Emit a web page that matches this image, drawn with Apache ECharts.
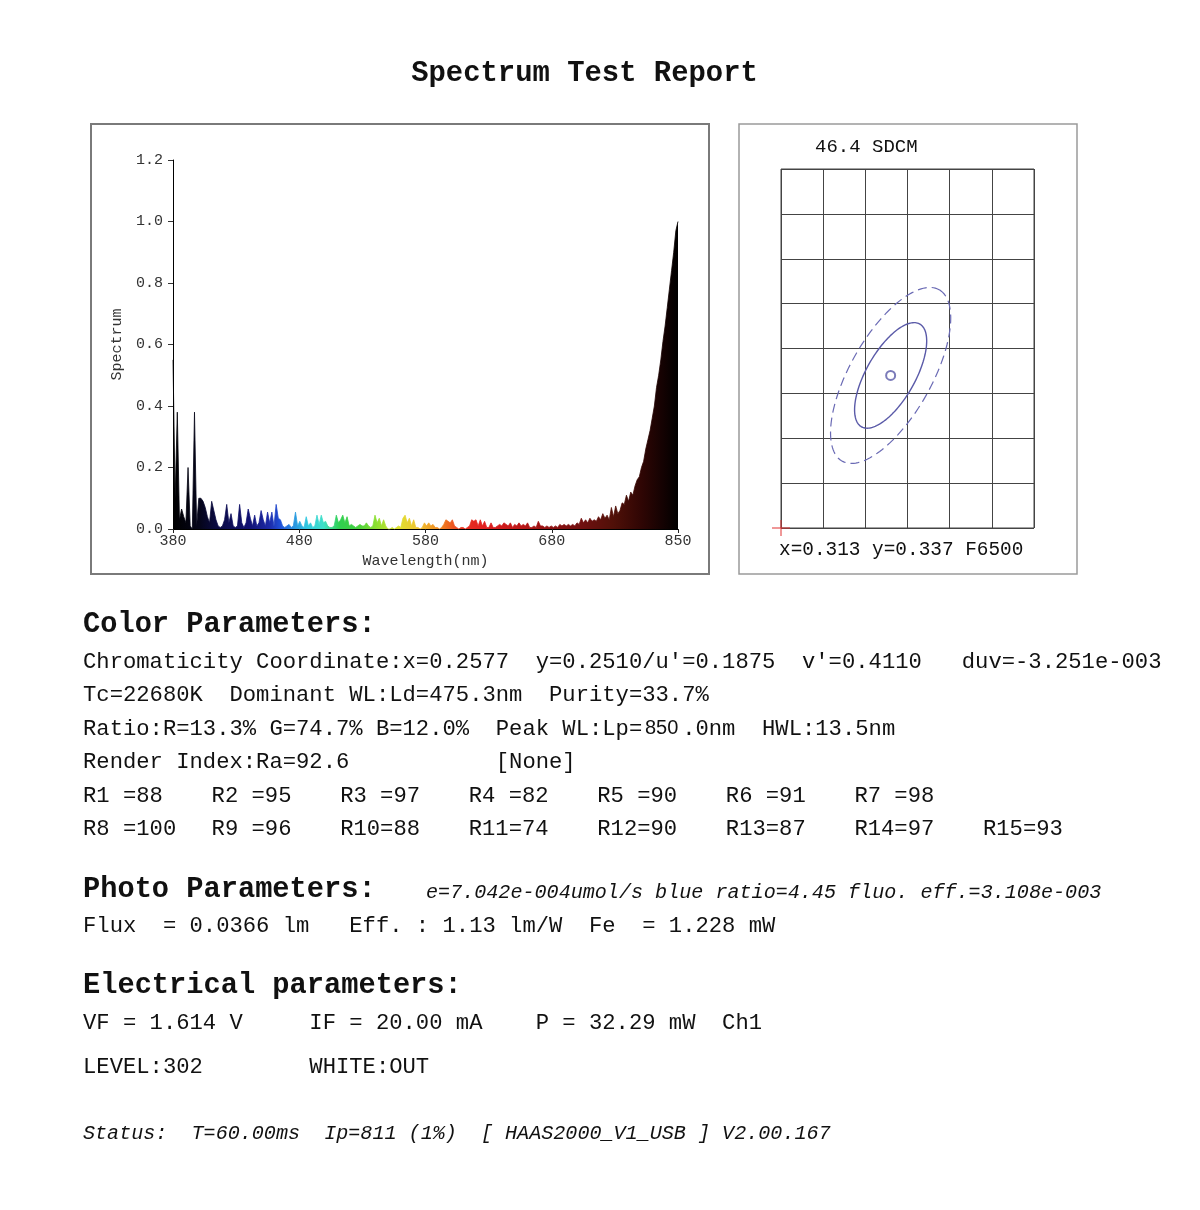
<!DOCTYPE html>
<html>
<head>
<meta charset="utf-8">
<script src="https://cdn.jsdelivr.net/npm/echarts@6/dist/echarts.min.js"></script>
<style>
  html, body { margin: 0; padding: 0; background: #fff; }
  #main { width: 1200px; height: 1210px; }
</style>
</head>
<body>
<div id="main"></div>
<script>
// ---------------- DATA ----------------
const reportTitle = "Spectrum Test Report";

// spectrum: relative intensity sampled every 2 nm from 380 nm to 850 nm
const wlStart = 380;
const wlStep = 2;
const spectrum = [
  // 380-398
  0.55,0.10,0.38,0.03,0.065,0.04,0.02,0.20,0.01,0.00,
  // 400-418
  0.38,0.01,0.10,0.10,0.09,0.07,0.04,0.02,0.09,0.06,
  // 420-438
  0.03,0.01,0.005,0.01,0.03,0.08,0.02,0.05,0.01,0.005,
  // 440-458
  0.01,0.08,0.02,0.005,0.02,0.065,0.035,0.01,0.045,0.01,
  // 460-478
  0.02,0.06,0.03,0.01,0.055,0.02,0.055,0.01,0.08,0.035,
  // 480-498
  0.03,0.01,0.005,0.01,0.015,0.005,0.01,0.055,0.01,0.025,
  // 500-518
  0.01,0.005,0.04,0.01,0.02,0.005,0.01,0.045,0.015,0.045,
  // 520-538
  0.02,0.025,0.01,0.005,0.005,0.01,0.045,0.02,0.03,0.045,
  // 540-558
  0.02,0.04,0.01,0.015,0.01,0.005,0.01,0.015,0.01,0.01,
  // 560-578
  0.02,0.01,0.005,0.01,0.045,0.02,0.035,0.01,0.03,0.01,
  // 580-598
  0.0,0.0,0.005,0.0,0.005,0.01,0.005,0.035,0.045,0.02,
  // 600-618
  0.035,0.01,0.03,0.005,0.005,0.0,0.005,0.02,0.01,0.02,
  // 620-638
  0.01,0.015,0.005,0.005,0.0,0.005,0.015,0.03,0.025,0.02,
  // 640-658
  0.03,0.01,0.005,0.0,0.005,0.005,0.0,0.005,0.01,0.03,
  // 660-678
  0.025,0.03,0.01,0.03,0.01,0.025,0.005,0.005,0.02,0.005,
  // 680-698
  0.005,0.01,0.015,0.01,0.02,0.015,0.01,0.02,0.005,0.015,
  // 700-718
  0.01,0.02,0.01,0.015,0.01,0.02,0.005,0.005,0.01,0.005,
  // 720-738
  0.025,0.01,0.01,0.005,0.01,0.005,0.01,0.005,0.01,0.005,
  // 740-758
  0.015,0.01,0.015,0.01,0.015,0.01,0.015,0.01,0.02,0.015,
  // 760-778
  0.035,0.02,0.03,0.02,0.035,0.025,0.03,0.025,0.04,0.03,
  // 780-798
  0.05,0.035,0.045,0.03,0.07,0.04,0.075,0.05,0.06,0.085,
  // 800-818
  0.08,0.11,0.09,0.12,0.11,0.14,0.16,0.17,0.20,0.22,
  // 820-838
  0.26,0.29,0.32,0.36,0.40,0.46,0.50,0.55,0.61,0.66,
  // 840-850
  0.72,0.78,0.84,0.90,0.97,1.00
];

// x-axis tick labels as printed on the report (placed at quarter positions)
const xTickLabels = ["380", "480", "580", "680", "850"];
const yTickLabels = ["0.0", "0.2", "0.4", "0.6", "0.8", "1.0", "1.2"];

// chromaticity panel
const sdcmValue = "46.4";
const targetName = "F6500";
const targetXY = [0.313, 0.337];
const measuredXY = [0.2577, 0.2510];
const macAdam = { a: 0.00223, b: 0.00095, thetaDeg: 58.23 };
const ellipseSteps = [3, 5];
const chromaX = [0.300, 0.330];
const chromaY = [0.320, 0.360];
const chromaStep = 0.005;

// report text
const colorHeader = "Color Parameters:";
const colorLines = [
  "Chromaticity Coordinate:x=0.2577  y=0.2510/u'=0.1875  v'=0.4110   duv=-3.251e-003",
  "Tc=22680K  Dominant WL:Ld=475.3nm  Purity=33.7%",
  "Ratio:R=13.3% G=74.7% B=12.0%  Peak WL:Lp=   .0nm  HWL:13.5nm",
  "Render Index:Ra=92.6           [None]"
];
const peakWL = "850";
const criValues = [88, 95, 97, 82, 90, 91, 98, 100, 96, 88, 74, 90, 87, 97, 93];
const photoHeader = "Photo Parameters:";
const photoNote = "e=7.042e-004umol/s blue ratio=4.45 fluo. eff.=3.108e-003";
const photoLine = "Flux  = 0.0366 lm   Eff. : 1.13 lm/W  Fe  = 1.228 mW";
const elecHeader = "Electrical parameters:";
const elecLines = [
  "VF = 1.614 V     IF = 20.00 mA    P = 32.29 mW  Ch1",
  "LEVEL:302        WHITE:OUT"
];
const statusLine = "Status:  T=60.00ms  Ip=811 (1%)  [ HAAS2000_V1_USB ] V2.00.167";

// ---------------- STYLE ----------------
const MONO = '"Liberation Mono", "DejaVu Sans Mono", monospace';
const spectralStops = [
  [0.000, '#000000'], [0.053, '#05051a'], [0.085, '#0a0a40'], [0.149, '#101070'],
  [0.191, '#1c2aa8'], [0.213, '#2050d8'], [0.238, '#2a90e0'], [0.266, '#30c8e0'],
  [0.298, '#40e0c8'], [0.330, '#30d050'], [0.362, '#40d040'], [0.404, '#90e030'],
  [0.447, '#e0e030'], [0.489, '#f0c030'], [0.532, '#f08020'], [0.574, '#e83020'],
  [0.617, '#e02020'], [0.681, '#c01818'], [0.745, '#901010'], [0.809, '#701010'],
  [0.872, '#501008'], [0.926, '#300604'], [0.968, '#150202'], [1.000, '#000000']
];
function spectralGradient() {
  return new echarts.graphic.LinearGradient(0, 0, 1, 0,
    spectralStops.map(s => ({ offset: s[0], color: s[1] })));
}

const wlEnd = wlStart + wlStep * (spectrum.length - 1);
const xTickValues = xTickLabels.map((_, i) => wlStart + i * (wlEnd - wlStart) / (xTickLabels.length - 1));
const spectrumData = spectrum.map((v, i) => [wlStart + i * wlStep, v]);

// ---------------- GRAPHIC TEXT ----------------
const graphics = [];
function txt(str, x, y, font, opts) {
  graphics.push(Object.assign({
    type: 'text', x: x, y: y, silent: true,
    style: { text: str, font: font, fill: '#111', align: 'left', verticalAlign: 'middle' }
  }, opts || {}));
}
// panel frames
graphics.push({ type: 'rect', silent: true, z: -1, shape: { x: 91, y: 124, width: 618, height: 450 },
  style: { fill: 'none', stroke: '#7a7a7a', lineWidth: 2 } });
graphics.push({ type: 'rect', silent: true, z: -1, shape: { x: 739, y: 124, width: 338, height: 450 },
  style: { fill: 'none', stroke: '#9a9a9a', lineWidth: 1.5 } });

const bodyFont = '22.2px ' + MONO;
const headFont = 'bold 28.7px ' + MONO;
const italFont = 'italic 20.1px ' + MONO;

graphics.push({ type: 'text', x: 584.5, y: 74, silent: true,
  style: { text: reportTitle, font: 'bold 28.9px ' + MONO, fill: '#111', align: 'center', verticalAlign: 'middle' } });

txt(colorHeader, 83, 625, headFont);
const colorY = [662, 695, 729, 762];
colorLines.forEach((l, i) => txt(l, 83, colorY[i], bodyFont));
txt(peakWL, 645, 728, '20px "Liberation Sans", Arial, sans-serif');

criValues.forEach((v, i) => {
  const name = ('R' + (i + 1) + '   ').slice(0, 3) + '=' + v;
  const row = i < 7 ? 0 : 1;
  const col = i < 7 ? i : i - 7;
  txt(name, 83 + col * 128.57, row === 0 ? 796 : 829, bodyFont);
});

txt(photoHeader, 83, 890, headFont);
txt(photoNote, 426, 893, italFont);
txt(photoLine, 83, 926, bodyFont);

txt(elecHeader, 83, 986, headFont);
txt(elecLines[0], 83, 1023, bodyFont);
txt(elecLines[1], 83, 1067, bodyFont);

txt(statusLine, 83, 1134, italFont);

// chromaticity panel texts
txt(sdcmValue + ' SDCM', 815, 147, '19px ' + MONO, {});
txt('x=' + targetXY[0].toFixed(3) + ' y=' + targetXY[1].toFixed(3) + ' ' + targetName, 779, 550, '19.4px ' + MONO);

// ---------------- CHART ----------------
const chart = echarts.init(document.getElementById('main'), null, { renderer: 'canvas' });

const axisFont = { fontFamily: MONO, fontSize: 15, color: '#333' };

const option = {
  animation: false,
  backgroundColor: '#ffffff',
  grid: [
    { left: 173, top: 160, width: 505, height: 369, show: false },
    { left: 781, top: 169, width: 253, height: 359, show: true,
      borderColor: '#444', borderWidth: 1, backgroundColor: 'transparent' }
  ],
  xAxis: [
    {
      gridIndex: 0, type: 'value', min: wlStart, max: wlEnd,
      axisLine: { show: true, onZero: false, lineStyle: { color: '#000', width: 1 } },
      axisTick: { show: true, length: 4, customValues: xTickValues, lineStyle: { color: '#222' } },
      axisLabel: Object.assign({
        customValues: xTickValues, margin: 5,
        formatter: function (v) {
          let best = 0;
          xTickValues.forEach((t, i) => { if (Math.abs(t - v) < Math.abs(xTickValues[best] - v)) best = i; });
          return xTickLabels[best];
        }
      }, axisFont),
      splitLine: { show: false },
      name: 'Wavelength(nm)', nameLocation: 'middle', nameGap: 25,
      nameTextStyle: axisFont
    },
    {
      gridIndex: 1, type: 'value', min: chromaX[0], max: chromaX[1], interval: chromaStep,
      axisLine: { show: false }, axisTick: { show: false }, axisLabel: { show: false },
      splitLine: { show: true, lineStyle: { color: '#444', width: 1 } }
    }
  ],
  yAxis: [
    {
      gridIndex: 0, type: 'value', min: 0, max: 1.2, interval: 0.2,
      axisLine: { show: true, lineStyle: { color: '#000', width: 1 } },
      axisTick: { show: true, length: 5, lineStyle: { color: '#333' } },
      axisLabel: Object.assign({
        margin: 10,
        formatter: function (v) { return yTickLabels[Math.round(v / 0.2)]; }
      }, axisFont),
      splitLine: { show: false },
      name: 'Spectrum', nameLocation: 'middle', nameGap: 48, nameRotate: 90,
      nameTextStyle: axisFont
    },
    {
      gridIndex: 1, type: 'value', min: chromaY[0], max: chromaY[1], interval: chromaStep,
      axisLine: { show: false }, axisTick: { show: false }, axisLabel: { show: false },
      splitLine: { show: true, lineStyle: { color: '#444', width: 1 } }
    }
  ],
  graphic: graphics,
  series: [
    {
      type: 'line', xAxisIndex: 0, yAxisIndex: 0,
      data: spectrumData, showSymbol: false, symbol: 'none', smooth: false,
      lineStyle: { width: 0.8, color: spectralGradient() },
      areaStyle: { color: spectralGradient(), opacity: 1 },
      z: 3
    },
    {
      type: 'custom', xAxisIndex: 1, yAxisIndex: 1,
      data: ellipseSteps.map(s => [targetXY[0], targetXY[1], s]),
      encode: { x: 0, y: 1 },
      renderItem: function (params, api) {
        const cx = api.value(0), cy = api.value(1), k = api.value(2);
        const a = macAdam.a * k, b = macAdam.b * k;
        const th = macAdam.thetaDeg * Math.PI / 180;
        const pts = [];
        for (let j = 0; j <= 144; j++) {
          const t = j / 144 * Math.PI * 2;
          const dx = a * Math.cos(t) * Math.cos(th) - b * Math.sin(t) * Math.sin(th);
          const dy = a * Math.cos(t) * Math.sin(th) + b * Math.sin(t) * Math.cos(th);
          pts.push(api.coord([cx + dx, cy + dy]));
        }
        const dashed = params.dataIndex === 1;
        return {
          type: 'polyline', shape: { points: pts },
          style: { fill: null, stroke: dashed ? '#6a6ab4' : '#5a5aa8', lineWidth: dashed ? 1.2 : 1.4,
                   lineDash: dashed ? [9, 5] : null }
        };
      },
      z: 4
    },
    {
      type: 'scatter', xAxisIndex: 1, yAxisIndex: 1,
      data: [targetXY], symbol: 'emptyCircle', symbolSize: 9,
      itemStyle: { color: '#5a5aa8', borderWidth: 1 },
      z: 5
    },
    {
      type: 'custom', xAxisIndex: 1, yAxisIndex: 1,
      data: [measuredXY], encode: { x: 0, y: 1 },
      renderItem: function (params, api) {
        const x = Math.min(Math.max(api.value(0), chromaX[0]), chromaX[1]);
        const y = Math.min(Math.max(api.value(1), chromaY[0]), chromaY[1]);
        const p = api.coord([x, y]);
        return {
          type: 'group',
          children: [
            { type: 'line', shape: { x1: p[0] - 9, y1: p[1], x2: p[0] + 9, y2: p[1] },
              style: { stroke: '#e03030', lineWidth: 1 } },
            { type: 'line', shape: { x1: p[0], y1: p[1] - 8, x2: p[0], y2: p[1] + 8 },
              style: { stroke: '#e03030', lineWidth: 1 } }
          ]
        };
      },
      z: 6
    }
  ]
};
chart.setOption(option);
</script>
</body>
</html>
